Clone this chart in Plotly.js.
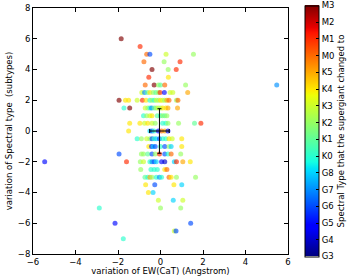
<!DOCTYPE html>
<html><head><meta charset="utf-8">
<script src="https://cdn.plot.ly/plotly-3.0.1.min.js"></script>
<style>html,body{margin:0;padding:0;background:#fff}#chart{width:354px;height:276px}</style>
</head><body><div id="chart"></div>
<script>
// Spectral type codes: 0=G3 ... 15=M3
const typeLabels = ["G3","G4","G5","G6","G7","G8","K0","K1","K2","K3","K4","K5","M0","M1","M2","M3"];
const typeCodes = [0,1,2,3,4,5,6,7,8,9,10,11,12,13,14,15];

// variation of EW(CaT), variation of spectral type, final spectral type code
const ewVar = [
  -1.85,
  -0.96,
  -0.65,-0.5,0.26,1.55,
  -0.78,0.17,0.92,
  -0.4,0.36,0.74,
  -0.55,0.37,
  -0.72,-0.3,-0.1,0.0,0.2,1.18,5.47,
  -0.88,-0.75,-0.62,-0.5,-0.35,-0.22,-0.1,-0.02,0.18,0.45,0.58,1.28,
  -1.95,-1.65,-1.5,-1.1,-0.85,-0.68,-0.5,-0.4,-0.3,-0.2,-0.1,0.0,0.1,0.2,0.3,0.4,0.75,0.82,
  -1.72,-1.45,-0.72,-0.6,-0.5,-0.42,-0.3,-0.2,-0.1,0.0,0.1,0.25,0.35,0.8,
  -0.8,-0.65,-0.5,-0.4,-0.15,0.0,0.1,0.2,0.3,
  -1.45,-0.97,-0.75,-0.6,-0.4,-0.25,0.1,0.25,0.35,0.85,1.6,1.9,
  -1.5,-0.5,-0.4,-0.3,-0.1,0.05,0.2,0.35,
  -1.1,-0.9,-0.65,-0.5,-0.4,-0.3,-0.2,-0.05,0.1,0.25,0.4,0.55,1.0,
  -0.55,-0.42,-0.35,-0.25,0.0,0.2,0.4,0.5,1.0,
  -1.95,-0.9,-0.8,-0.6,-0.4,-0.25,-0.05,0.2,0.35,0.5,0.95,
  -5.45,-1.6,-0.95,-0.8,-0.5,-0.4,-0.3,-0.2,0.05,0.2,0.65,0.75,1.05,1.4,
  -0.93,-0.45,-0.3,-0.15,0.2,0.3,
  -0.73,-0.6,-0.5,-0.4,-0.2,-0.05,0.05,0.4,0.5,0.75,1.65,
  -0.7,-0.27,0.63,1.0,
  -0.57,-0.35,
  -0.1,0.6,1.05,
  -2.88,0.0,0.95,
  -2.14,1.42,
  0.65,0.73,
  -1.75
];
const spVar = [
  6,
  5.5,
  5,5,5,5,
  4.5,4.5,4.5,
  4,4,4,
  3.5,3.5,
  3,3,3,3,3,3,3,
  2.5,2.5,2.5,2.5,2.5,2.5,2.5,2.5,2.5,2.5,2.5,2.5,
  2,2,2,2,2,2,2,2,2,2,2,2,2,2,2,2,2,2,
  1.5,1.5,1.5,1.5,1.5,1.5,1.5,1.5,1.5,1.5,1.5,1.5,1.5,1.5,
  1,1,1,1,1,1,1,1,1,
  0.5,0.5,0.5,0.5,0.5,0.5,0.5,0.5,0.5,0.5,0.5,0.5,
  0,0,0,0,0,0,0,0,
  -0.5,-0.5,-0.5,-0.5,-0.5,-0.5,-0.5,-0.5,-0.5,-0.5,-0.5,-0.5,-0.5,
  -1,-1,-1,-1,-1,-1,-1,-1,-1,
  -1.5,-1.5,-1.5,-1.5,-1.5,-1.5,-1.5,-1.5,-1.5,-1.5,-1.5,
  -2,-2,-2,-2,-2,-2,-2,-2,-2,-2,-2,-2,-2,-2,
  -2.5,-2.5,-2.5,-2.5,-2.5,-2.5,
  -3,-3,-3,-3,-3,-3,-3,-3,-3,-3,-3,
  -3.5,-3.5,-3.5,-3.5,
  -4,-4,
  -4.5,-4.5,-4.5,
  -5,-5,-5,
  -6,-6,
  -6.5,-6.5,
  -7
];
const finalType = [
  15,
  13,
  12,3,9,8,
  12,8,13,
  15,8,13,
  13,10,
  12,15,8,7,12,8,4,
  9,4,7,10,8,7,8,13,2,9,9,11,
  15,10,10,9,13,10,6,8,6,9,8,10,9,8,11,12,8,12,
  6,15,9,8,6,4,7,8,9,8,10,10,11,11,
  6,8,9,10,7,6,8,7,8,
  10,10,9,10,9,8,6,6,8,8,7,13,
  10,5,3,6,2,12,11,2,
  6,8,9,8,3,6,5,3,6,6,10,9,10,
  10,2,5,3,6,3,8,5,10,
  3,8,8,7,3,8,13,3,6,12,8,
  2,13,8,9,6,4,3,5,2,1,5,13,11,10,
  8,6,6,6,10,12,
  7,6,11,8,6,4,6,12,10,8,8,
  10,3,10,5,
  10,5,
  9,5,9,
  6,8,8,
  2,3,
  9,3,
  6
];

// summary point with error bars
const meanX = [-0.05];
const meanY = [0];
const errX = [0.46];
const errY = [1.45];

const jet = [
  [0,'rgb(0,0,128)'],[0.11,'rgb(0,0,255)'],[0.125,'rgb(0,0,255)'],
  [0.34,'rgb(0,219,255)'],[0.35,'rgb(0,229,247)'],[0.375,'rgb(21,255,226)'],
  [0.64,'rgb(238,255,8)'],[0.66,'rgb(255,236,0)'],[0.89,'rgb(255,19,0)'],
  [0.91,'rgb(232,0,0)'],[1,'rgb(128,0,0)']
];

const font = {family:'DejaVu Sans, sans-serif', size:8.5, color:'#000'};

const traces = [
  {
    type:'scatter', mode:'markers', x: ewVar, y: spVar,
    marker:{
      size:5, color: finalType, colorscale: jet, cmin:0, cmax:15,
      opacity:0.65, line:{width:0},
      colorbar:{
        x:1.067, xanchor:'left', y:0.5, yanchor:'middle', len:1.02, lenmode:'fraction',
        thickness:14, outlinewidth:1, outlinecolor:'#000',
        tickmode:'array', tickvals: typeCodes, ticktext: typeLabels,
        ticks:'inside', ticklen:3, tickcolor:'#000', tickfont:font,
        xpad:0, ypad:0,
        title:{text:'Spectral Type that the supergiant changed to', side:'right', font:{family:'DejaVu Sans, sans-serif', size:8.5, color:'#000'}}
      }
    },
    hoverinfo:'skip', showlegend:false
  },
  {
    type:'scatter', mode:'lines', x: meanX, y: meanY,
    error_x:{type:'data', array: errX, color:'#000', thickness:1, width:2},
    error_y:{type:'data', array: errY, color:'#000', thickness:1, width:2},
    line:{width:0}, showlegend:false, hoverinfo:'skip'
  }
];

const layout = {
  width:354, height:276,
  margin:{l:33, r:66, t:6, b:22},
  paper_bgcolor:'#fff', plot_bgcolor:'#fff',
  font: font,
  showlegend:false,
  xaxis:{
    range:[-6,6], tickvals:[-6,-4,-2,0,2,4,6], showgrid:false, zeroline:false,
    showline:true, linecolor:'#000', linewidth:1, mirror:'ticks',
    ticks:'inside', ticklen:4, tickcolor:'#000', tickfont:font,
    title:{text:'variation of EW(CaT) (Angstrom)', font:{family:'DejaVu Sans, sans-serif', size:8.5, color:'#000'}, standoff:0}
  },
  yaxis:{
    range:[-8,8], tickvals:[-8,-6,-4,-2,0,2,4,6,8], showgrid:false, zeroline:false,
    showline:true, linecolor:'#000', linewidth:1, mirror:'ticks',
    ticks:'inside', ticklen:4, tickcolor:'#000', tickfont:font,
    title:{text:'variation of Spectral type  (subtypes)', font:{family:'DejaVu Sans, sans-serif', size:8.5, color:'#000'}, standoff:3}
  }
};

Plotly.newPlot('chart', traces, layout, {staticPlot:true, displayModeBar:false});
</script>
</body></html>
